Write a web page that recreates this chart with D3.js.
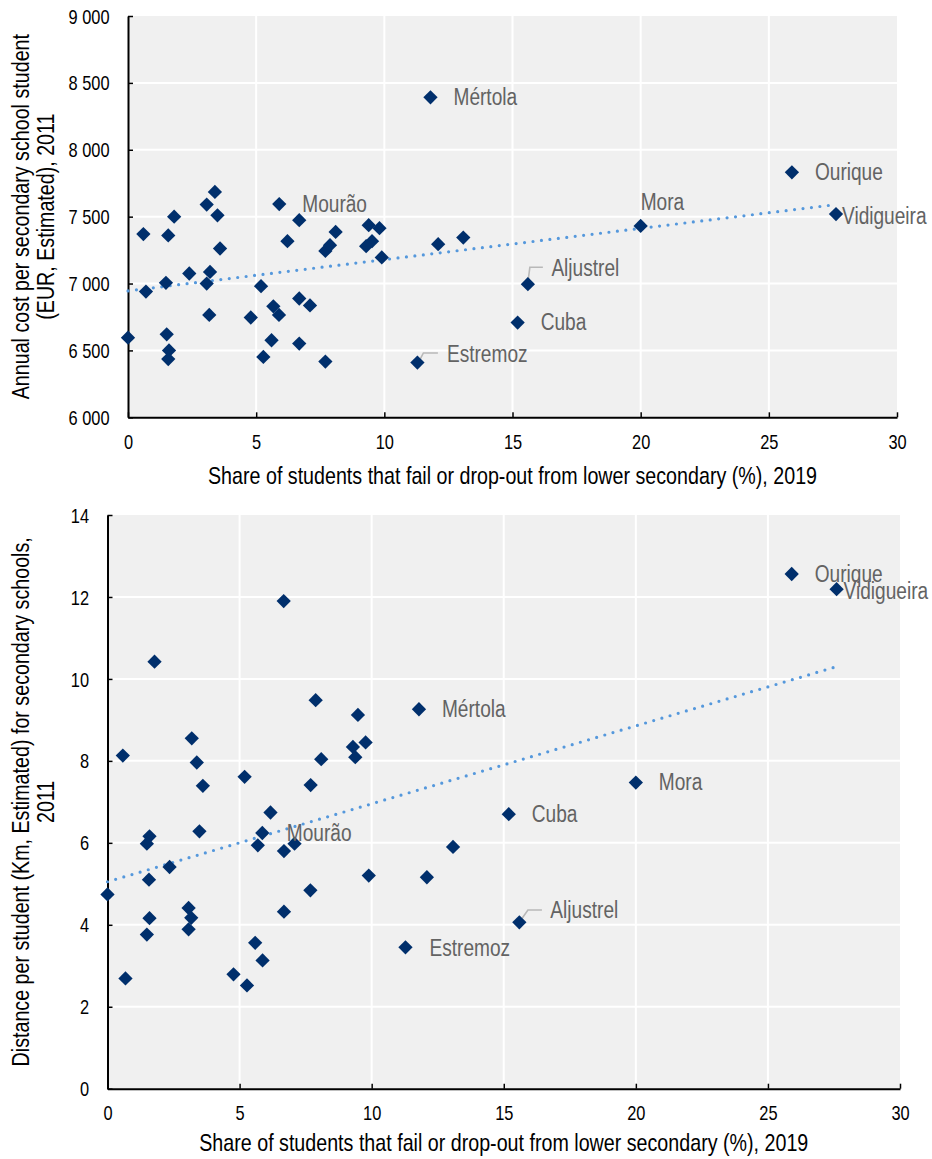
<!DOCTYPE html>
<html><head><meta charset="utf-8">
<script src="https://cdn.jsdelivr.net/npm/d3@7"></script>
<style>html,body{margin:0;padding:0;background:#fff}</style>
</head><body><svg id="c" width="932" height="1159"></svg>
<script>
// ---------------- DATA ----------------
const xTicks = [0, 5, 10, 15, 20, 25, 30];
const costTicks = [6000, 6500, 7000, 7500, 8000, 8500, 9000];
const distTicks = [0, 2, 4, 6, 8, 10, 12, 14];

// named municipalities are the last 8 entries of each series, in this order
const labelNames = ["Mourão", "Mértola", "Cuba", "Aljustrel", "Estremoz", "Mora", "Ourique", "Vidigueira"];

// Chart 1: share fail/drop-out (%) vs annual cost per student (EUR)
const costFailShare = [0.0, 0.6, 0.7, 1.57, 1.8, 1.48, 1.51, 1.6, 1.57, 2.39, 3.07, 3.39, 3.49, 3.59, 3.2, 3.07, 3.17, 4.79, 5.19, 5.28,
  5.6, 5.67, 5.89, 6.22, 6.68, 6.68, 7.1, 6.68, 7.7, 7.7, 7.88, 8.1, 9.39, 9.81, 9.52, 9.29, 9.9, 12.1, 13.08,
  5.9, 11.8, 15.2, 15.6, 11.29, 20.0, 25.9, 27.62];
const costValues = [6595, 7370, 6940, 7360, 7500, 7005, 6620, 6500, 6435, 7075, 7590, 7685, 7510, 7262, 7087, 7000, 6765, 6746, 6980, 6451,
  6576, 6830, 6765, 7317, 7474, 6888, 6836, 6551, 6417, 7244, 7287, 7386, 7436, 7414, 7317, 7279, 7195, 7294, 7344,
  7594, 8392, 6708, 6995, 6409, 7431, 7831, 7519];
const costTrendX = [0, 27.6];
const costTrendY = [6945, 7590];

// Chart 2: share fail/drop-out (%) vs distance per student (km)
const distFailShare = [1.78, 0.58, 3.19, 3.38, 3.61, 5.19, 7.88, 9.48, 9.29, 9.77, 9.38, 8.09, 7.69, 6.17, 1.59, 3.48, 1.49, 5.69, 6.68, 7.08,
  2.35, 1.57, 0.0, 3.07, 3.17, 3.07, 1.59, 1.49, 0.68, 4.77, 5.28, 5.59, 5.87, 6.68, 7.68, 9.89, 13.08, 12.09, 6.67,
  5.86, 11.79, 15.19, 15.59, 11.28, 20.0, 25.9, 27.6];
const distValues = [10.42, 8.13, 8.55, 7.96, 7.39, 7.61, 9.48, 9.12, 8.34, 8.45, 8.09, 8.04, 7.41, 6.74, 6.16, 6.28, 5.98, 5.94, 5.80, 5.98,
  5.41, 5.10, 4.74, 4.41, 4.17, 3.89, 4.16, 3.76, 2.69, 2.79, 2.52, 3.56, 3.13, 4.32, 4.84, 5.20, 5.90, 5.16, 11.9,
  6.24, 9.26, 6.70, 4.06, 3.45, 7.47, 12.56, 12.19];
const distTrendX = [0, 27.6];
const distTrendY = [5.05, 10.3];

const xTitle = "Share of students that fail or drop-out from lower secondary (%), 2019";
const costTitle = ["Annual cost per secondary school student", "(EUR, Estimated), 2011"];
const distTitle = ["Distance per student (Km, Estimated) for secondary schools,", "2011"];

// ---------------- FONT ----------------
function hasFont(f) {
  const c = document.createElement("canvas").getContext("2d");
  const s = "Share of students 0123456789";
  c.font = "40px monospace"; const w0 = c.measureText(s).width;
  c.font = `40px "${f}", monospace`; const w1 = c.measureText(s).width;
  return Math.abs(w1 - w0) > 0.5;
}
let FAMILY, SX;
if (hasFont("Liberation Sans Narrow")) { FAMILY = '"Liberation Sans Narrow", "Arial Narrow", sans-serif'; SX = 1; }
else { FAMILY = '"Liberation Sans", Arial, sans-serif'; SX = 0.82; }

const svg = d3.select("#c");
const fmtSpace = d3.formatLocale({decimal: ".", thousands: " ", grouping: [3], currency: ["", ""]}).format(",");

function addText(parent, x, y, str, o = {}) {
  const g = parent.append("g").attr("transform", `translate(${x},${y}) rotate(${o.rotate || 0}) scale(${SX},1)`);
  return g.append("text").text(str)
    .attr("font-family", FAMILY).attr("font-size", o.size || 19)
    .attr("fill", o.fill || "#000")
    .attr("text-anchor", o.anchor || "start")
    .attr("dominant-baseline", "central");
}

const markerPath = d3.symbol(d3.symbolSquare, 102)();

function drawChart(cfg) {
  const {x0, x1, y0, y1, xVals, yVals, yDomain, yTicks, yFmt, trendX, trendY, yTitle, xTitleY, offsets} = cfg;
  const x = d3.scaleLinear().domain([0, 30]).range([x0, x1]);
  const y = d3.scaleLinear().domain(yDomain).range([y1, y0]);
  const g = svg.append("g");

  g.append("rect").attr("x", x0).attr("y", y0).attr("width", x1 - x0).attr("height", y1 - y0).attr("fill", "#f0f0f0");
  // grid
  g.append("g").selectAll("line").data(xTicks.filter(t => t > 0 && t < 30)).join("line")
    .attr("x1", d => x(d)).attr("x2", d => x(d)).attr("y1", y0).attr("y2", y1)
    .attr("stroke", "#fff").attr("stroke-width", 2);
  g.append("g").selectAll("line").data(yTicks.filter(t => t > yDomain[0] && t < yDomain[1])).join("line")
    .attr("x1", x0).attr("x2", x1).attr("y1", d => y(d)).attr("y2", d => y(d))
    .attr("stroke", "#fff").attr("stroke-width", 2);

  // axes
  const ax = g.append("g").attr("transform", `translate(0,${y1})`)
    .call(d3.axisBottom(x).tickValues(xTicks).tickSize(-5).tickSizeOuter(0).tickFormat(d3.format("d")));
  const ay = g.append("g").attr("transform", `translate(${x0},0)`)
    .call(d3.axisLeft(y).tickValues(yTicks).tickSize(-5).tickSizeOuter(0).tickFormat(yFmt));
  [ax, ay].forEach(a => {
    a.select(".domain").attr("stroke", "#000").attr("stroke-width", 2);
    a.selectAll(".tick line").attr("stroke", "#000").attr("stroke-width", 1.5);
    a.selectAll(".tick text").remove();
  });
  ax.selectAll(".tick").each(function (d) { addText(d3.select(this), 0, 24.5, d3.format("d")(d), {anchor: "middle", size: 20}); });
  ay.selectAll(".tick").each(function (d) { addText(d3.select(this), -18.5, 0, yFmt(d), {anchor: "end", size: 20}); });

  // trend line
  g.append("path").datum(trendX.map((v, i) => [v, trendY[i]]))
    .attr("d", d3.line().x(d => x(d[0])).y(d => y(d[1])))
    .attr("fill", "none").attr("stroke", "#5598dc").attr("stroke-width", 3.2)
    .attr("stroke-linecap", "round").attr("stroke-dasharray", "0 8.5");

  const n = xVals.length, nNamed = labelNames.length;
  // leader lines
  labelNames.forEach((name, k) => {
    const i = n - nNamed + k, o = offsets[name] || {};
    if (o.leader) {
      const px = x(xVals[i]), py = y(yVals[i]);
      g.append("path").attr("d", d3.line()(o.leader.map(p => [px + p[0], py + p[1]])))
        .attr("fill", "none").attr("stroke", "#b8b8b8").attr("stroke-width", 1.6);
    }
  });
  // markers
  g.append("g").selectAll("path").data(d3.range(n)).join("path")
    .attr("d", markerPath)
    .attr("transform", i => `translate(${x(xVals[i])},${y(yVals[i])}) rotate(45)`)
    .attr("fill", "#002f6c");
  // labels
  labelNames.forEach((name, k) => {
    const i = n - nNamed + k, o = offsets[name] || {};
    const dx = o.dx !== undefined ? o.dx : 23, dy = o.dy || 0;
    addText(g, x(xVals[i]) + dx, y(yVals[i]) + dy, name, {size: 23.3, fill: "#636363"});
  });

  // titles
  addText(g, (x0 + x1) / 2, xTitleY, xTitle, {anchor: "middle", size: 24});
  const cy = (y0 + y1) / 2;
  addText(g, 21, cy, yTitle[0], {anchor: "middle", size: 24, rotate: -90});
  addText(g, 45.5, cy, yTitle[1], {anchor: "middle", size: 24, rotate: -90});
}

drawChart({
  x0: 128, x1: 897, y0: 16, y1: 417.3,
  xVals: costFailShare, yVals: costValues, yDomain: [6000, 9000], yTicks: costTicks, yFmt: fmtSpace,
  trendX: costTrendX, trendY: costTrendY, yTitle: costTitle, xTitleY: 476,
  offsets: {
    "Mora": {dx: 0, dy: -24},
    "Vidigueira": {dx: 6, dy: 2.5},
    "Aljustrel": {dx: 23.5, dy: -16, leader: [[0, -2], [2, -17], [15, -17]]},
    "Estremoz": {dx: 29.5, dy: -8.3, leader: [[1, 0], [6, -9.6], [20.5, -9.6]]}
  }
});

drawChart({
  x0: 107.5, x1: 900, y0: 515, y1: 1088.7,
  xVals: distFailShare, yVals: distValues, yDomain: [0, 14], yTicks: distTicks, yFmt: d3.format("d"),
  trendX: distTrendX, trendY: distTrendY, yTitle: distTitle, xTitleY: 1143,
  offsets: {
    "Vidigueira": {dx: 7, dy: 2.5},
    "Mourão": {dx: 24.5, dy: 0},
    "Estremoz": {dx: 24, dy: 1.5},
    "Aljustrel": {dx: 31, dy: -11.7, leader: [[0, 0], [8.6, -12.4], [22.6, -12.4]]}
  }
});
</script></body></html>
